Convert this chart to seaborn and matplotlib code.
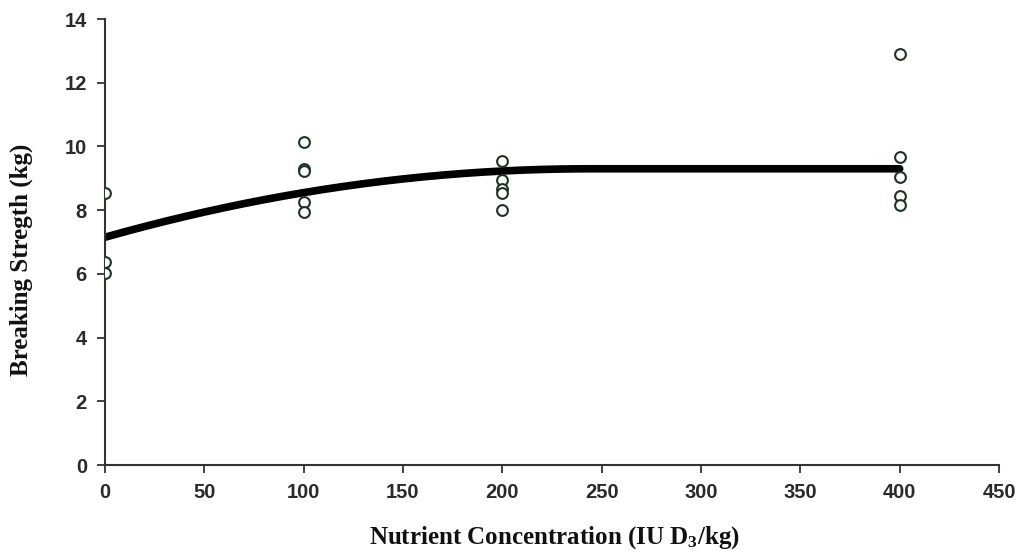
import numpy as np
import pandas as pd
import matplotlib
matplotlib.use("Agg")
import matplotlib.pyplot as plt
import seaborn as sns

dose = [0, 0, 0,
        100, 100, 100, 100, 100,
        200, 200, 200, 200, 200,
        400, 400, 400, 400, 400]
strength = [8.53, 6.38, 6.02,
            10.13, 9.29, 9.24, 8.26, 7.93,
            9.55, 8.95, 8.65, 8.55, 8.00,
            12.89, 9.66, 9.03, 8.45, 8.16]

# Quadratic-plateau fit parameters
plateau = 9.30
breakpoint = 244.0
intercept = 7.15
fit_xmax = 400

x_ticks = [0, 50, 100, 150, 200, 250, 300, 350, 400, 450]
y_ticks = [0, 2, 4, 6, 8, 10, 12, 14]

sns.set_theme(style="white")
plt.rcParams["mathtext.default"] = "regular"

df = pd.DataFrame({"dose": dose, "strength": strength})
k = (plateau - intercept) / breakpoint ** 2
xs = np.linspace(0, fit_xmax, 401)
ys = np.where(xs < breakpoint, plateau - k * (breakpoint - xs) ** 2, plateau)
fit = pd.DataFrame({"dose": xs, "strength": ys})

fig = plt.figure(figsize=(10.23, 5.54), dpi=100)
ax = fig.add_axes([0.1026, 0.1606, 0.874, 0.805])

sns.lineplot(data=fit, x="dose", y="strength", ax=ax, color="black",
             linewidth=5.5, zorder=2)
sns.scatterplot(data=df, x="dose", y="strength", ax=ax, marker="o",
                s=60, facecolor="white", edgecolor="#1f3320", linewidth=1.5,
                zorder=3)

ax.set_xlim(0, 450)
ax.set_ylim(0, 14)
ax.set_xticks(x_ticks)
ax.set_yticks(y_ticks)
ax.set_xticklabels([str(v) for v in x_ticks])
ax.set_yticklabels([str(v) for v in y_ticks])

for side in ["top", "right"]:
    ax.spines[side].set_visible(False)
for side in ["left", "bottom"]:
    ax.spines[side].set_color("#333333")
    ax.spines[side].set_linewidth(1.5)

ax.tick_params(axis="both", which="both", direction="out", length=6, width=1.3,
               color="#333333", labelsize=14.5, labelcolor="#2a2a2a", pad=7,
               bottom=True, left=True)
for lab in ax.get_xticklabels() + ax.get_yticklabels():
    lab.set_family("Liberation Sans")
    lab.set_fontweight("bold")

ax.set_xlabel("Nutrient Concentration (IU D$_3$/kg)", family="Liberation Serif",
              fontweight="bold", fontsize=18, color="#111111")
ax.set_ylabel("Breaking Stregth (kg)", family="Liberation Serif",
              fontweight="bold", fontsize=18, color="#111111")
ax.xaxis.set_label_coords(0.503, -0.132)
ax.yaxis.set_label_coords(-0.081, 0.46)
ax.grid(False)
ax.patch.set_facecolor("white")

fig.savefig("out.png", dpi=100, facecolor="white")
